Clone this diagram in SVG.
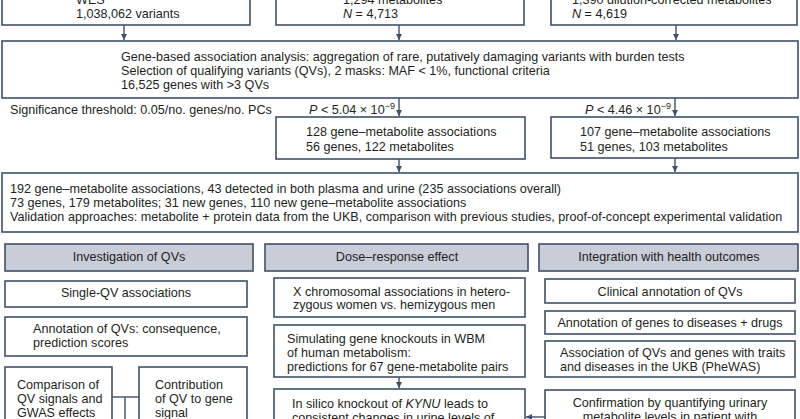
<svg xmlns="http://www.w3.org/2000/svg" width="800" height="419" viewBox="0 0 800 419">
<defs>
<style>
.box{fill:#fff;stroke:#3f5068;stroke-width:1.6}
.hdr{fill:#c8cdd7;stroke:#3f5068;stroke-width:1.6}
.ln{fill:none;stroke:#3f5068;stroke-width:1.4}
text{font-family:"Liberation Sans",Arial,sans-serif;font-size:12.6px;fill:#231f20}
.c{text-anchor:middle}
.i{font-style:italic}
.sup{font-size:9px}
</style>
<marker id="ah" markerWidth="7" markerHeight="7" refX="6" refY="3.5" orient="auto" markerUnits="userSpaceOnUse">
<path d="M0,0.5 L6,3.5 L0,6.5 Z" fill="#3f5068"/>
</marker>
</defs>
<rect width="800" height="419" fill="#fff"/>

<g id="connectors">
<line class="ln" x1="124" y1="25" x2="124" y2="40" marker-end="url(#ah)"/>
<line class="ln" x1="399" y1="25" x2="399" y2="40" marker-end="url(#ah)"/>
<line class="ln" x1="676" y1="25" x2="676" y2="40" marker-end="url(#ah)"/>
<line class="ln" x1="399" y1="98" x2="399" y2="116" marker-end="url(#ah)"/>
<line class="ln" x1="675" y1="98" x2="675" y2="116" marker-end="url(#ah)"/>
<line class="ln" x1="399" y1="159" x2="399" y2="172" marker-end="url(#ah)"/>
<line class="ln" x1="675" y1="158" x2="675" y2="172" marker-end="url(#ah)"/>
<line class="ln" x1="399" y1="377" x2="399" y2="388" marker-end="url(#ah)"/>
<line class="ln" x1="545" y1="417" x2="526" y2="417" marker-end="url(#ah)"/>
<line class="ln" x1="112" y1="397" x2="139" y2="397"/>
<line class="ln" x1="125" y1="397" x2="125" y2="425"/>
</g>

<g id="wes">
<rect class="box" x="2" y="-20" width="248" height="45"/>
<text x="76" y="4">WES</text>
<text x="76" y="18">1,038,062 variants</text>
</g>
<g id="plasma">
<rect class="box" x="276" y="-20" width="248" height="45"/>
<text x="343" y="4">1,294 metabolites</text>
<text x="343" y="18"><tspan class="i">N</tspan> = 4,713</text>
</g>
<g id="urine">
<rect class="box" x="551" y="-20" width="246" height="45"/>
<text x="572" y="4">1,390 dilution-corrected metabolites</text>
<text x="572" y="18"><tspan class="i">N</tspan> = 4,619</text>
</g>

<g id="gene-based">
<rect class="box" x="2" y="41" width="796" height="57"/>
<text x="121" y="61">Gene-based association analysis: aggregation of rare, putatively damaging variants with burden tests</text>
<text x="121" y="75">Selection of qualifying variants (QVs), 2 masks: MAF &lt; 1%, functional criteria</text>
<text x="121" y="89">16,525 genes with &gt;3 QVs</text>
</g>

<g id="threshold">
<text x="10" y="114">Significance threshold: 0.05/no. genes/no. PCs</text>
<text x="309" y="114"><tspan class="i">P</tspan> &lt; 5.04 × 10<tspan class="sup" dy="-5">−9</tspan></text>
<text x="585" y="114"><tspan class="i">P</tspan> &lt; 4.46 × 10<tspan class="sup" dy="-5">−9</tspan></text>
</g>

<g id="plasma-res">
<rect class="box" x="276" y="117" width="249" height="42"/>
<text x="306" y="136">128 gene–metabolite associations</text>
<text x="306" y="151">56 genes, 122 metabolites</text>
</g>
<g id="urine-res">
<rect class="box" x="551" y="117" width="247" height="41"/>
<text x="580" y="136">107 gene–metabolite associations</text>
<text x="580" y="151">51 genes, 103 metabolites</text>
</g>

<g id="combined">
<rect class="box" x="2" y="173" width="796" height="59"/>
<text x="10" y="193">192 gene–metabolite associations, 43 detected in both plasma and urine (235 associations overall)</text>
<text x="10" y="207">73 genes, 179 metabolites; 31 new genes, 110 new gene–metabolite associations</text>
<text x="10" y="221">Validation approaches: metabolite + protein data from the UKB, comparison with previous studies, proof-of-concept experimental validation</text>
</g>

<g id="hdr-qv">
<rect class="hdr" x="5" y="244" width="248" height="27"/>
<text class="c" x="129" y="261">Investigation of QVs</text>
</g>
<g id="hdr-dose">
<rect class="hdr" x="265" y="244" width="263" height="27"/>
<text class="c" x="397" y="261">Dose–response effect</text>
</g>
<g id="hdr-health">
<rect class="hdr" x="539" y="244" width="259" height="27"/>
<text class="c" x="669" y="261">Integration with health outcomes</text>
</g>

<g id="single-qv">
<rect class="box" x="5" y="281" width="242" height="26"/>
<text class="c" x="126" y="297">Single-QV associations</text>
</g>
<g id="annot-qv">
<rect class="box" x="5" y="317" width="242" height="39"/>
<text x="33" y="333">Annotation of QVs: consequence,</text>
<text x="33" y="347">prediction scores</text>
</g>
<g id="comparison">
<rect class="box" x="5" y="367" width="107" height="70"/>
<text x="17" y="389">Comparison of</text>
<text x="17" y="403">QV signals and</text>
<text x="17" y="417">GWAS effects</text>
</g>
<g id="contribution">
<rect class="box" x="139" y="367" width="108" height="70"/>
<text x="155" y="389">Contribution</text>
<text x="155" y="403">of QV to gene</text>
<text x="155" y="417">signal</text>
</g>

<g id="xchrom">
<rect class="box" x="274" y="278" width="251" height="39"/>
<text x="293" y="296">X chromosomal associations in hetero-</text>
<text x="293" y="309">zygous women vs. hemizygous men</text>
</g>
<g id="simulating">
<rect class="box" x="274" y="325" width="251" height="52"/>
<text x="287" y="343">Simulating gene knockouts in WBM</text>
<text x="287" y="357">of human metabolism:</text>
<text x="287" y="371">predictions for 67 gene-metabolite pairs</text>
</g>
<g id="kynu">
<rect class="box" x="274" y="389" width="251" height="50"/>
<text x="292" y="408">In silico knockout of <tspan class="i">KYNU</tspan> leads to</text>
<text x="292" y="422">consistent changes in urine levels of</text>
</g>

<g id="clinical">
<rect class="box" x="545" y="279" width="250" height="24"/>
<text class="c" x="670" y="296">Clinical annotation of QVs</text>
</g>
<g id="annot-genes">
<rect class="box" x="545" y="311" width="250" height="23"/>
<text class="c" x="670" y="327">Annotation of genes to diseases + drugs</text>
</g>
<g id="phewas">
<rect class="box" x="545" y="341" width="250" height="36"/>
<text x="560" y="357">Association of QVs and genes with traits</text>
<text x="560" y="371">and diseases in the UKB (PheWAS)</text>
</g>
<g id="confirmation">
<rect class="box" x="545" y="390" width="250" height="50"/>
<text class="c" x="670" y="407">Confirmation by quantifying urinary</text>
<text class="c" x="670" y="421">metabolite levels in patient with</text>
</g>
</svg>
